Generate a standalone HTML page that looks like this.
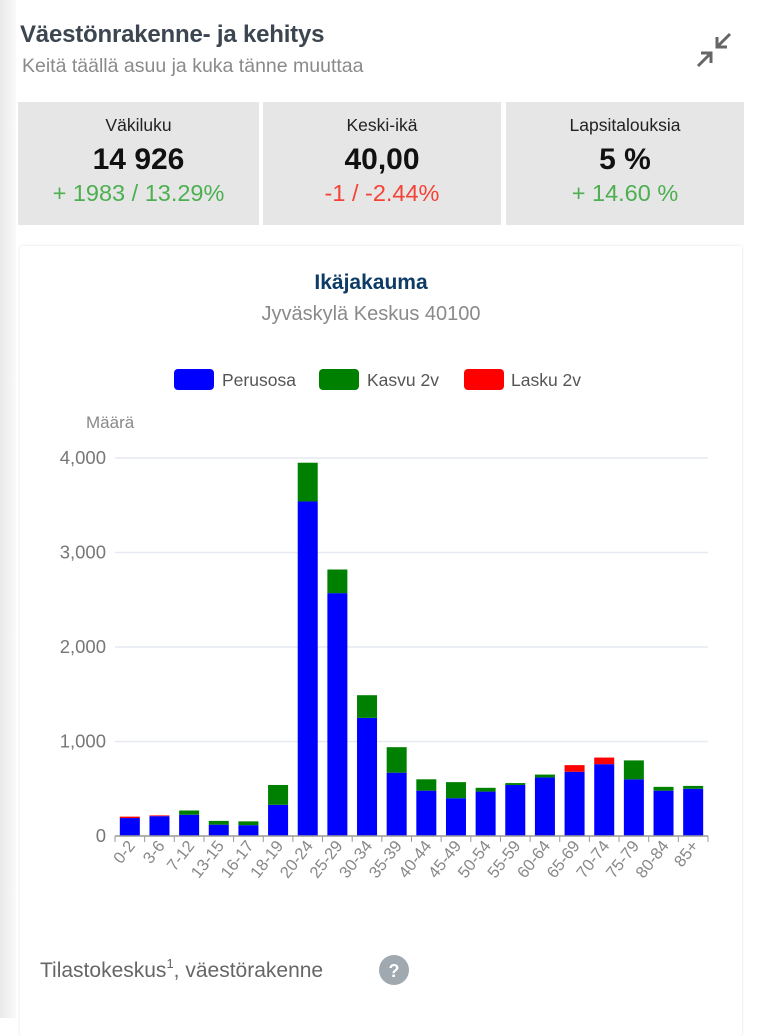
<!DOCTYPE html>
<html><head><meta charset="utf-8">
<style>
html,body{margin:0;padding:0;width:772px;height:1018px;overflow:hidden;background:#fff;font-family:"Liberation Sans",sans-serif;}
.strip{position:absolute;left:0;top:0;width:16px;height:1018px;background:linear-gradient(to right,#e9e9e9,#fafafa);}
.h1{position:absolute;left:20px;top:21px;font-size:24px;font-weight:bold;color:#3c4650;letter-spacing:-0.2px;}
.h2{position:absolute;left:22px;top:55px;font-size:19.5px;color:#8a8a8a;}
.card{position:absolute;top:102px;height:123px;background:#e6e6e6;text-align:center;}
.card .t{margin-top:13px;font-size:17.5px;color:#222;}
.card .v{margin-top:7px;font-size:30px;font-weight:bold;color:#111;}
.card .d{margin-top:3px;font-size:23.5px;}
.panel{position:absolute;left:20px;top:246px;width:722px;height:790px;background:#fff;box-shadow:0 0 3px rgba(0,0,0,0.12);border-radius:3px;}
</style></head><body>
<div class="strip"></div>
<div class="h1">Väestönrakenne- ja kehitys</div>
<div class="h2">Keitä täällä asuu ja kuka tänne muuttaa</div>
<svg style="position:absolute;left:690px;top:28px" width="50" height="50" viewBox="690 28 50 50">
<g stroke="#666" stroke-width="3" fill="none">
<line x1="698" y1="66" x2="710" y2="54"/><polyline points="701,53 711,53 711,63"/>
<line x1="730" y1="34" x2="718" y2="46"/><polyline points="717,37 717,47 727,47"/>
</g></svg>
<div class="card" style="left:18px;width:241px"><div class="t">Väkiluku</div><div class="v">14 926</div><div class="d" style="color:#4caf50">+ 1983 / 13.29%</div></div>
<div class="card" style="left:263px;width:238px"><div class="t">Keski-ikä</div><div class="v">40,00</div><div class="d" style="color:#f44336">-1 / -2.44%</div></div>
<div class="card" style="left:506px;width:238px"><div class="t">Lapsitalouksia</div><div class="v">5 %</div><div class="d" style="color:#4caf50">+ 14.60 %</div></div>
<div class="panel"></div>
<svg id="c" style="position:absolute;left:0;top:0" width="772" height="1018" font-family="Liberation Sans, sans-serif">
<text x="371" y="289" text-anchor="middle" font-size="21" font-weight="bold" fill="#0d3b66">Ikäjakauma</text>
<text x="371" y="320" text-anchor="middle" font-size="20" fill="#8a8a8a">Jyväskylä Keskus 40100</text>
<rect x="174" y="369" width="40" height="21" rx="4" fill="#0000ff"/><text x="222" y="386" font-size="17.5" fill="#555">Perusosa</text>
<rect x="319" y="369" width="40" height="21" rx="4" fill="#008000"/><text x="367" y="386" font-size="17.5" fill="#555">Kasvu 2v</text>
<rect x="464" y="369" width="40" height="21" rx="4" fill="#ff0000"/><text x="511" y="386" font-size="17.5" fill="#555">Lasku 2v</text>
<text x="86" y="428" font-size="17" fill="#888">Määrä</text>
<g id="g"></g>
<text x="40" y="977" font-size="21" fill="#666">Tilastokeskus<tspan font-size="13" dy="-9">1</tspan><tspan dy="9">, väestörakenne</tspan></text>
<circle cx="394" cy="970" r="15" fill="#a0a8b0"/><text x="394" y="977" text-anchor="middle" font-size="18" font-weight="bold" fill="#fff">?</text>
</svg>
<script>
var g=document.getElementById('g'),s='';
var y0=836,k=0.0945,x0=115,x1=708,n=20,p=(x1-x0)/n;
[1000,2000,3000,4000].forEach(function(v){var y=y0-v*k;s+='<line x1="'+x0+'" x2="'+x1+'" y1="'+y+'" y2="'+y+'" stroke="#e6e9f2" stroke-width="1.5"/>';});
[0,1000,2000,3000,4000].forEach(function(v){s+='<text x="106" y="'+(y0-v*k+6)+'" text-anchor="end" font-size="18.5" fill="#777">'+(v?(v/1000)+',000':'0')+'</text>';});
var L=['0-2','3-6','7-12','13-15','16-17','18-19','20-24','25-29','30-34','35-39','40-44','45-49','50-54','55-59','60-64','65-69','70-74','75-79','80-84','85+'];
var B=[[190,0,15],[210,0,8],[225,45,0],[120,40,0],[115,40,0],[330,210,0],[3540,410,0],[2570,250,0],[1250,240,0],[670,270,0],[480,120,0],[400,170,0],[470,40,0],[540,20,0],[620,30,0],[680,0,70],[760,0,70],[600,200,0],[480,40,0],[500,30,0]];
for(var i=0;i<n;i++){var cx=x0+p*(i+0.5),bx=cx-10,b=B[i];
var yb=y0-b[0]*k;s+='<rect x="'+bx+'" y="'+yb+'" width="20" height="'+(b[0]*k)+'" fill="#0000ff"/>';
if(b[1]){s+='<rect x="'+bx+'" y="'+(yb-b[1]*k)+'" width="20" height="'+(b[1]*k)+'" fill="#008000"/>';}
if(b[2]){s+='<rect x="'+bx+'" y="'+(yb-b[2]*k)+'" width="20" height="'+(b[2]*k)+'" fill="#ff0000"/>';}
s+='<text transform="translate('+(cx+6)+',846) rotate(-52)" text-anchor="end" font-size="16.5" fill="#888">'+L[i]+'</text>';}
s+='<line x1="'+x0+'" x2="'+x1+'" y1="'+y0+'" y2="'+y0+'" stroke="#999" stroke-width="1.5"/>';
for(var i=0;i<=n;i++){var x=x0+p*i;s+='<line x1="'+x+'" x2="'+x+'" y1="'+y0+'" y2="'+(y0+6)+'" stroke="#999"/>';}
g.innerHTML=s;
</script>
</body></html>
